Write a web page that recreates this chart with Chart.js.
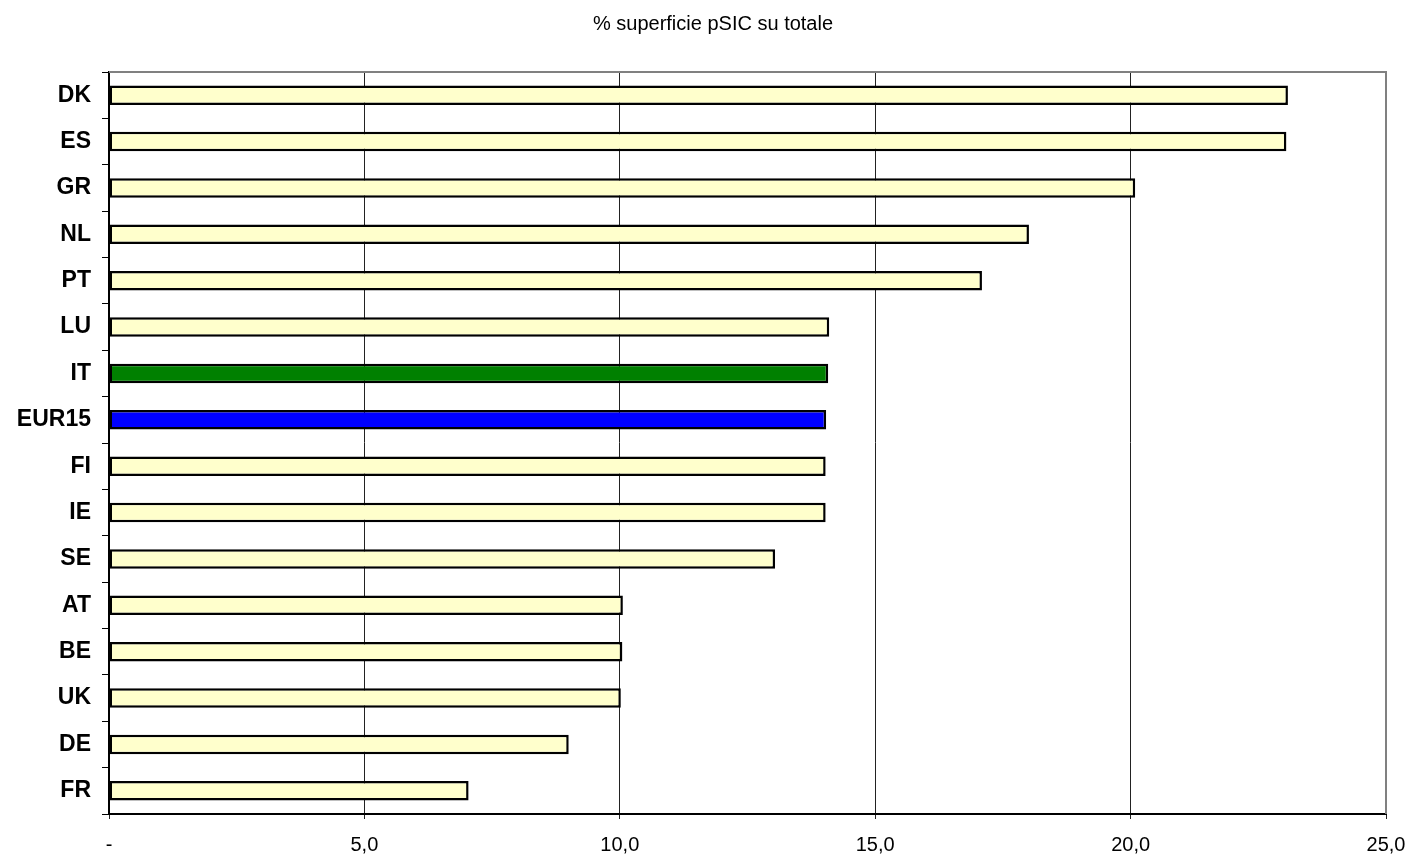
<!DOCTYPE html>
<html>
<head>
<meta charset="utf-8">
<script src="https://cdn.jsdelivr.net/npm/chart.js@4/dist/chart.umd.min.js"></script>
<style>
  html, body { margin: 0; padding: 0; background: #fff; }
  #wrap { width: 1409px; height: 857px; position: relative; }
</style>
</head>
<body>
<div id="wrap"><canvas id="c"></canvas></div>
<script>
const titleText = '% superficie pSIC su totale';
const categories = ['DK','ES','GR','NL','PT','LU','IT','EUR15','FI','IE','SE','AT','BE','UK','DE','FR'];
const values = [23.08, 23.05, 20.09, 18.01, 17.09, 14.10, 14.08, 14.04, 14.03, 14.03, 13.04, 10.06, 10.05, 10.02, 9.00, 7.04];
const xTicks = [0, 5, 10, 15, 20, 25];

const highlight = { 'IT': '#008000', 'EUR15': '#0000FF' };
const fills = categories.map(c => highlight[c] || '#FFFFCC');

const borderPlugin = {
  id: 'plotBorder',
  beforeDatasetsDraw(chart) {
    const { ctx, chartArea: a } = chart;
    ctx.save();
    ctx.strokeStyle = '#808080';
    ctx.lineWidth = 2;
    ctx.beginPath();
    ctx.moveTo(a.left, a.top);
    ctx.lineTo(a.right, a.top);
    ctx.lineTo(a.right, a.bottom);
    ctx.stroke();
    ctx.restore();
  }
};

const titlePlugin = {
  id: 'offsetTitle',
  afterDraw(chart) {
    const ctx = chart.ctx;
    ctx.save();
    ctx.fillStyle = '#000';
    ctx.font = '20px "Liberation Sans", Arial, sans-serif';
    ctx.textAlign = 'center';
    ctx.textBaseline = 'middle';
    ctx.fillText(titleText, 713, 24);
    ctx.restore();
  }
};

new Chart(document.getElementById('c'), {
  type: 'bar',
  data: {
    labels: categories,
    datasets: [{
      data: values,
      backgroundColor: fills,
      borderColor: '#000',
      borderWidth: 2.5,
      borderSkipped: false,
      barPercentage: 0.42,
      categoryPercentage: 1.0
    }]
  },
  options: {
    indexAxis: 'y',
    responsive: true,
    maintainAspectRatio: false,
    animation: false,
    layout: { padding: { left: 0, right: 23, top: 72, bottom: 0 } },
    plugins: {
      legend: { display: false },
      tooltip: { enabled: false },
      title: { display: false }
    },
    scales: {
      x: {
        type: 'linear',
        min: 0,
        max: 25,
        afterBuildTicks(scale) { scale.ticks = xTicks.map(v => ({ value: v })); },
        afterFit(scale) { scale.height = 43; scale.paddingRight = 0; scale.paddingLeft = 0; },
        ticks: {
          color: '#000',
          padding: 14,
          maxRotation: 0,
          font: { family: 'Liberation Sans, Arial, sans-serif', size: 20 },
          callback: v => v === 0 ? '-' : v.toFixed(1).replace('.', ',')
        },
        grid: {
          color: '#222',
          lineWidth: 1,
          tickLength: 5,
          drawTicks: true
        },
        border: { display: true, color: '#000', width: 2 }
      },
      y: {
        type: 'category',
        afterFit(scale) { scale.width = 109; scale.paddingTop = 0; scale.paddingBottom = 0; },
        ticks: {
          color: '#000',
          padding: 11,
          font: { family: 'Liberation Sans, Arial, sans-serif', size: 23, weight: 'bold' }
        },
        grid: {
          offset: true,
          drawOnChartArea: false,
          drawTicks: true,
          tickLength: 7,
          color: '#000'
        },
        border: { display: true, color: '#000', width: 2 }
      }
    }
  },
  plugins: [borderPlugin, titlePlugin]
});
</script>
</body>
</html>
